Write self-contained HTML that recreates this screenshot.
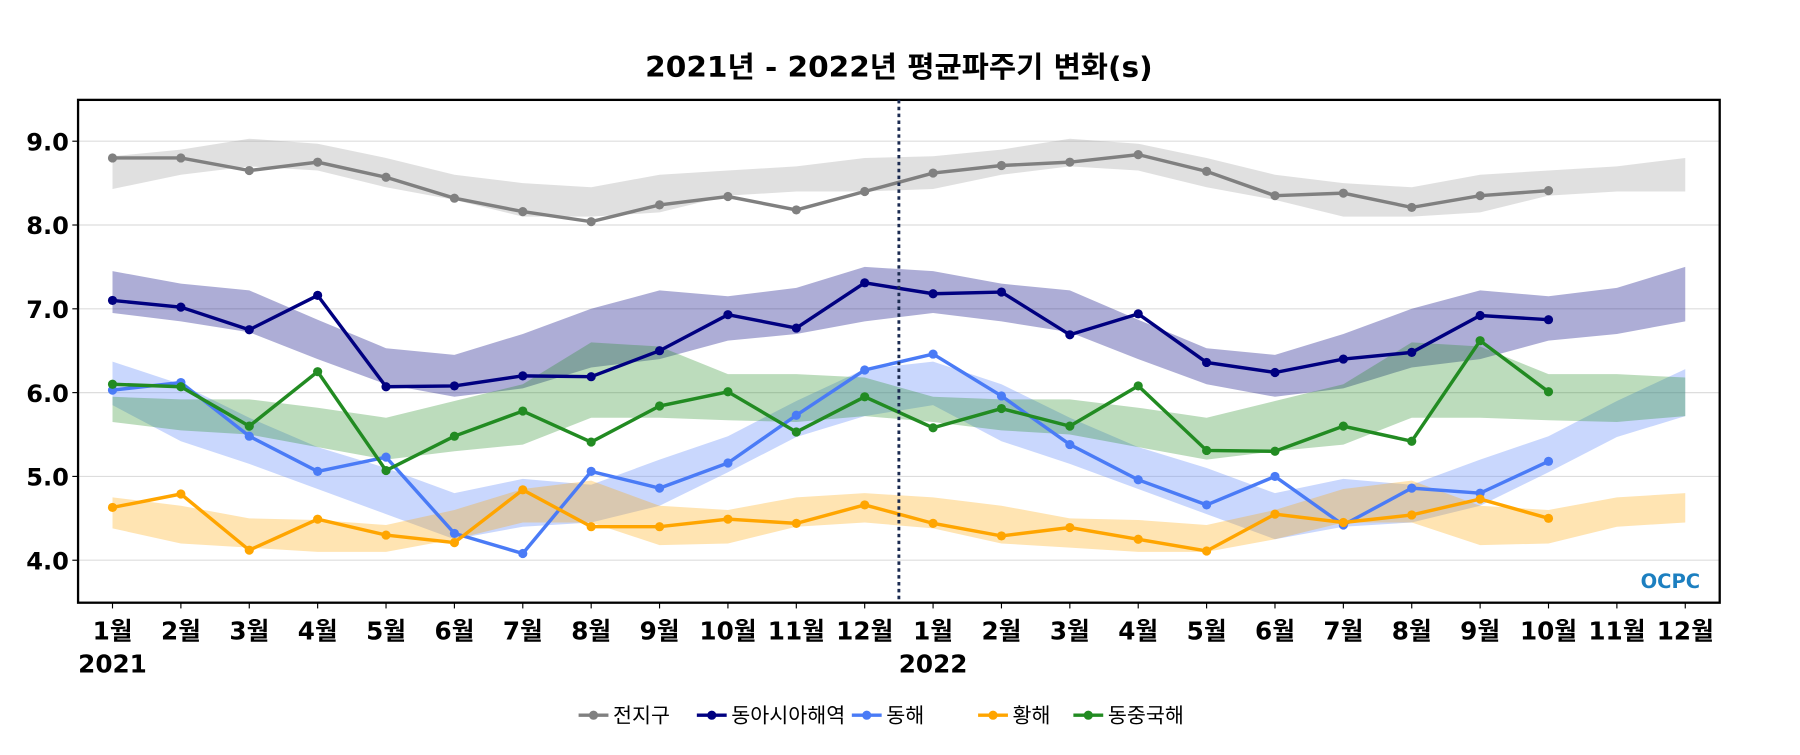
<!DOCTYPE html>
<html><head><meta charset="utf-8"><style>
body{margin:0;background:#fff;overflow:hidden;}
svg text{font-family:"DejaVu Sans","Liberation Sans","Noto Sans CJK KR",sans-serif;}
</style></head><body>
<svg id="chart" width="1800" height="750" xmlns="http://www.w3.org/2000/svg">
<g transform="scale(1.148)">
<text x="783" y="67" text-anchor="middle" font-size="25" font-weight="bold" textLength="442" lengthAdjust="spacingAndGlyphs">2021년 - 2022년 평균파주기 변화(s)</text>
<g id="grid"></g><g id="bands"></g><g id="lines"></g><g id="axes"></g><g id="legend"></g>
</g>
</svg>
<script>
const months = ['1월','2월','3월','4월','5월','6월','7월','8월','9월','10월','11월','12월','1월','2월','3월','4월','5월','6월','7월','8월','9월','10월','11월','12월'];
const yTicks = [4,5,6,7,8,9];
const seriesNames = ['전지구','동아시아해역','동해','황해','동중국해'];
const seriesColors = ['#808080','#000080','#4a7bf6','#ffa500','#228b22'];
const bandColors = ['rgba(160,160,160,0.33)','rgba(0,0,128,0.32)','rgba(100,140,250,0.35)','rgba(255,165,0,0.3)','rgba(34,139,34,0.3)'];
const globalVals = [8.8,8.8,8.65,8.75,8.57,8.32,8.16,8.04,8.24,8.34,8.18,8.4,8.62,8.71,8.75,8.84,8.64,8.35,8.38,8.21,8.35,8.41];
const eastAsiaVals = [7.1,7.02,6.75,7.16,6.07,6.08,6.2,6.19,6.5,6.93,6.77,7.31,7.18,7.2,6.69,6.94,6.36,6.24,6.4,6.48,6.92,6.87];
const eastSeaVals = [6.03,6.12,5.48,5.06,5.23,4.32,4.08,5.06,4.86,5.16,5.73,6.27,6.46,5.96,5.38,4.96,4.66,5.0,4.42,4.86,4.8,5.18];
const yellowSeaVals = [4.63,4.79,4.12,4.49,4.3,4.21,4.84,4.4,4.4,4.49,4.44,4.66,4.44,4.29,4.39,4.25,4.11,4.55,4.45,4.54,4.73,4.5];
const eastChinaVals = [6.1,6.07,5.6,6.25,5.07,5.48,5.78,5.41,5.84,6.01,5.53,5.95,5.58,5.81,5.6,6.08,5.31,5.3,5.6,5.42,6.62,6.01];
const globalHi = [8.82,8.9,9.03,8.97,8.8,8.6,8.5,8.45,8.6,8.65,8.7,8.8];
const globalLo = [8.43,8.6,8.7,8.65,8.45,8.3,8.1,8.1,8.15,8.35,8.4,8.4];
const eastAsiaHi = [7.45,7.3,7.22,6.87,6.53,6.45,6.7,7.0,7.22,7.15,7.25,7.5];
const eastAsiaLo = [6.95,6.85,6.72,6.4,6.1,5.95,6.05,6.3,6.4,6.62,6.7,6.85];
const eastSeaHi = [6.37,6.1,5.7,5.35,5.1,4.8,4.97,4.9,5.2,5.48,5.9,6.28];
const eastSeaLo = [5.85,5.42,5.15,4.85,4.55,4.25,4.4,4.45,4.65,5.05,5.47,5.72];
const yellowSeaHi = [4.75,4.65,4.5,4.48,4.42,4.6,4.85,4.95,4.65,4.6,4.75,4.8];
const yellowSeaLo = [4.38,4.2,4.15,4.1,4.1,4.25,4.45,4.45,4.18,4.2,4.4,4.45];
const eastChinaHi = [5.95,5.92,5.92,5.82,5.7,5.9,6.1,6.6,6.55,6.22,6.22,6.18];
const eastChinaLo = [5.65,5.55,5.5,5.35,5.2,5.3,5.38,5.7,5.7,5.67,5.65,5.72];

const NS='http://www.w3.org/2000/svg';
const L=68,R=1498,T=87,B=525;
const xs=i=>98+i*(1468-98)/23;
const ys=v=>488-(v-4)*73;
function mk(tag,attrs,parent){const e=document.createElementNS(NS,tag);for(const k in attrs)e.setAttribute(k,attrs[k]);parent.appendChild(e);return e;}
const g=id=>document.getElementById(id);

yTicks.forEach(t=>{
  const ln=mk('line',{x1:L,x2:R,y1:ys(t),y2:ys(t),stroke:'#ddd','stroke-width':1},g('grid'));
  
  
  const tk=mk('line',{x1:L-5,x2:L,y1:ys(t),y2:ys(t),stroke:'#000','stroke-width':1},g('axes'));
  
  
  const tx=mk('text',{x:L-8,y:ys(t)+8,'text-anchor':'end','font-size':21,'font-weight':'bold'},g('axes'));
  tx.textContent=t.toFixed(1);
  
  
});

const his=[globalHi,eastAsiaHi,eastSeaHi,yellowSeaHi,eastChinaHi];
const los=[globalLo,eastAsiaLo,eastSeaLo,yellowSeaLo,eastChinaLo];
const vals=[globalVals,eastAsiaVals,eastSeaVals,yellowSeaVals,eastChinaVals];
[0,1,2,3,4].forEach(s=>{
  const hi=his[s].concat(his[s]), lo=los[s].concat(los[s]);
  let d=hi.map((v,i)=>(i?'L':'M')+xs(i)+','+ys(v)).join('');
  for(let i=lo.length-1;i>=0;i--)d+='L'+xs(i)+','+ys(lo[i]);
  const p=mk('path',{d:d+'Z',fill:bandColors[s]},g('bands'));
  
  
});
[0,1,2,3,4].forEach(s=>{
  const v=vals[s];
  const pl=mk('polyline',{points:v.map((y,i)=>xs(i)+','+ys(y)).join(' '),fill:'none',stroke:seriesColors[s],'stroke-width':3},g('lines'));
  
  
  v.forEach((y,i)=>{
    const c=mk('circle',{cx:xs(i),cy:ys(y),r:4,fill:seriesColors[s]},g('lines'));
    
    
  });
});

const fr=mk('rect',{x:L,y:T,width:R-L,height:B-T,fill:'none',stroke:'#000','stroke-width':2},g('axes'));


const dv=mk('line',{x1:(xs(11)+xs(12))/2,x2:(xs(11)+xs(12))/2,y1:T,y2:B,stroke:'#1a2a50','stroke-width':2.5,'stroke-dasharray':'3,3'},g('axes'));



months.forEach((m,i)=>{
  const tk=mk('line',{x1:xs(i),x2:xs(i),y1:B,y2:B+5,stroke:'#000'},g('axes'));
  
  
  const tx=mk('text',{x:xs(i),y:557,'text-anchor':'middle','font-size':21.5,'font-weight':'bold'},g('axes'));
  tx.textContent=m;
  
  
});
[['2021',xs(0)],['2022',xs(12)]].forEach(([y,x])=>{
  const tx=mk('text',{x:x,y:586,'text-anchor':'middle','font-size':21.5,'font-weight':'bold'},g('axes'));
  tx.textContent=y;
  
  
});

const lx=[504,607,742,852,935];
seriesNames.forEach((n,s)=>{
  const x=lx[s];
  const lg=mk('g',{},g('legend'));
  
  
  mk('line',{x1:x,x2:x+26,y1:623,y2:623,stroke:seriesColors[s],'stroke-width':3},lg);
  mk('circle',{cx:x+13,cy:623,r:4,fill:seriesColors[s]},lg);
  const t=mk('text',{x:x+30,y:629.5,'font-size':18},lg);
  t.textContent=n;
});
const logo=mk('text',{x:1455,y:512,'text-anchor':'middle','font-size':17,'font-weight':'bold',fill:'#1c7fc0'},g('axes'));
logo.textContent='OCPC';


</script>
</body></html>
